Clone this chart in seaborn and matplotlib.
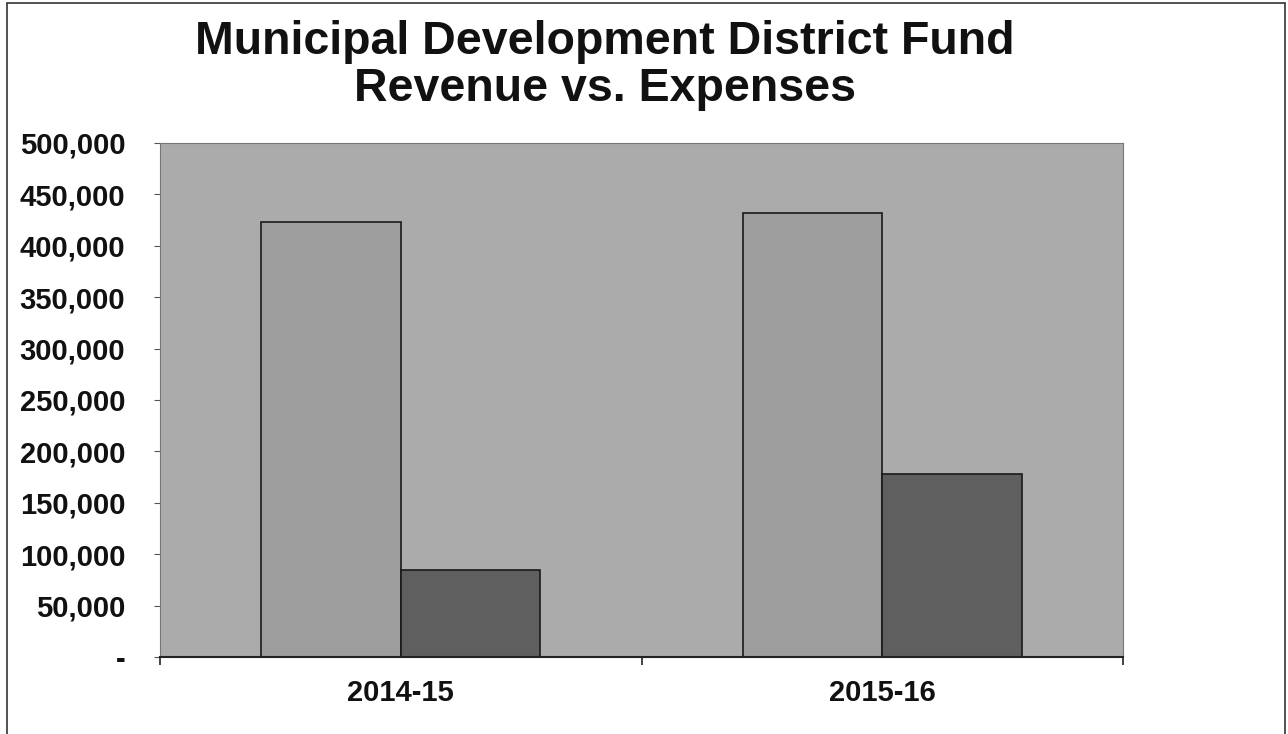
import matplotlib
matplotlib.use("Agg")
import matplotlib.pyplot as plt
import matplotlib.ticker as mticker
from matplotlib.patches import Rectangle
import seaborn as sns
import pandas as pd

# ---- data ----
years = ["2014-15", "2015-16"]
series = ["Revenue", "Expenses"]
revenue = [423000, 432000]
expenses = [85000, 178000]
y_ticks = [0, 50000, 100000, 150000, 200000, 250000, 300000, 350000, 400000, 450000, 500000]
title_lines = ["Municipal Development District Fund", "Revenue vs. Expenses"]

df = pd.DataFrame({
    "year": years * 2,
    "series": [series[0]] * len(years) + [series[1]] * len(years),
    "value": revenue + expenses,
})

sns.set_theme(style="white")
plt.rcParams["font.family"] = ["Liberation Sans", "DejaVu Sans"]
plt.rcParams["font.weight"] = "bold"

fig = plt.figure(figsize=(12.88, 7.34), dpi=100)
ax = fig.add_axes([160 / 1288, 1 - 657 / 734, (1123 - 160) / 1288, (657 - 143) / 734])
ax.set_facecolor("#ababab")

palette = {"Revenue": "#9e9e9e", "Expenses": "#5f5f5f"}
sns.barplot(data=df, x="year", y="value", hue="series", order=years,
            hue_order=series, palette=palette, width=0.58, saturation=1,
            edgecolor="#1a1a1a", linewidth=1.2, ax=ax, legend=False)

ax.set_xlim(-0.5, 1.5)
ax.set_ylim(0, 500000)
ax.set_yticks(y_ticks)
ax.yaxis.set_major_formatter(mticker.FuncFormatter(
    lambda v, p: "-" if v == 0 else f"{int(v):,}"))
ax.set_xlabel("")
ax.set_ylabel("")

ax.tick_params(axis="y", which="major", left=True, length=4, width=0.8,
               color="#555555", pad=21, labelsize=21)
ax.tick_params(axis="x", which="major", bottom=False, length=0, pad=16, labelsize=21)
ax.set_xticks([-0.5, 0.5, 1.5], minor=True)
ax.tick_params(axis="x", which="minor", bottom=True, length=6, width=1.2,
               color="#222222", direction="out")
for lbl in ax.get_xticklabels() + ax.get_yticklabels():
    lbl.set_fontweight("bold")
    lbl.set_color("#111111")

for side in ["top", "right", "left"]:
    ax.spines[side].set_color("#777777")
    ax.spines[side].set_linewidth(0.8)
ax.spines["bottom"].set_color("#222222")
ax.spines["bottom"].set_linewidth(1.5)

fig.text(605 / 1288, 1 - 20 / 734, "\n".join(title_lines), ha="center", va="top",
         fontsize=33.5, fontweight="bold", color="#111111", linespacing=1.1)

# outer frame of the scanned chart
fig.patches.append(Rectangle((7 / 1288, -0.05), (1285 - 7) / 1288, 1.05 - 3 / 734,
                             transform=fig.transFigure, fill=False,
                             edgecolor="#333333", linewidth=1.2))

fig.savefig("out.png", dpi=100, facecolor="white")
